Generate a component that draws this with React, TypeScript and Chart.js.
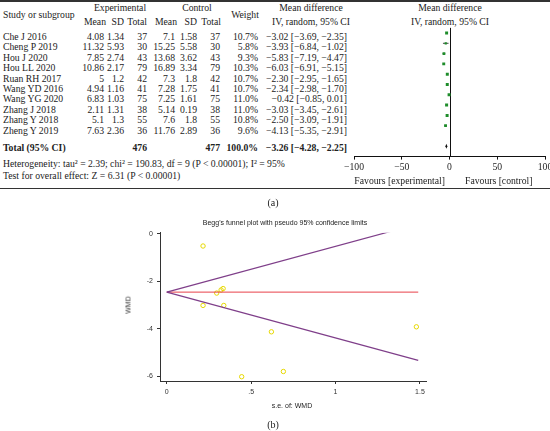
import React, { useEffect, useRef } from "react";
import { Chart, registerables } from "chart.js";
Chart.register(...registerables);

// ---------- Forest plot data ----------
const studies = ["Che J 2016", "Cheng P 2019", "Hou J 2020", "Hou LL 2020", "Ruan RH 2017", "Wang YD 2016", "Wang YG 2020", "Zhang J 2018", "Zhang Y 2018", "Zheng Y 2019"];
const expMean = [4.08, 11.32, 7.85, 10.86, 5, 4.94, 6.83, 2.11, 5.1, 7.63];
const expSD = [1.34, 5.93, 2.74, 2.17, 1.2, 1.16, 1.03, 1.31, 1.3, 2.36];
const expN = [37, 30, 43, 79, 42, 41, 75, 38, 55, 36];
const ctlMean = [7.1, 15.25, 13.68, 16.89, 7.3, 7.28, 7.25, 5.14, 7.6, 11.76];
const ctlSD = [1.58, 5.58, 3.62, 3.34, 1.8, 1.75, 1.61, 0.19, 1.8, 2.89];
const ctlN = [37, 30, 43, 79, 42, 41, 75, 38, 55, 36];
const weights = [10.7, 5.8, 9.3, 10.3, 10.7, 10.7, 11.0, 11.0, 10.8, 9.6];
const md = [-3.02, -3.93, -5.83, -6.03, -2.3, -2.34, -0.42, -3.03, -2.5, -4.13];
const mdLo = [-3.69, -6.84, -7.19, -6.91, -2.95, -2.98, -0.85, -3.45, -3.09, -5.35];
const mdHi = [-2.35, -1.02, -4.47, -5.15, -1.65, -1.7, 0.01, -2.61, -1.91, -2.91];
const totalExpN = 476;
const totalCtlN = 477;
const totalMd = -3.26;
const totalLo = -4.28;
const totalHi = -2.25;
const forestTicks = [-100, -50, 0, 50, 100];

// ---------- Funnel plot data ----------
const funnelSe = [0.215, 0.296, 0.322, 0.334, 0.215, 0.338, 0.62, 1.479, 0.691, 0.444];
const funnelWmd = [-0.52, -2.5, -2.37, -2.31, -3.02, -3.02, -4.13, -3.92, -5.8, -6.02];
const pooledLine = [{ x: 0, y: -2.46 }, { x: 1.49, y: -2.46 }];
const upperLimit = [{ x: 0, y: -2.46 }, { x: 1.49, y: 0.41 }];
const lowerLimit = [{ x: 0, y: -2.46 }, { x: 1.49, y: -5.33 }];
const funnelXTicks = [0, 0.5, 1, 1.5];
const funnelYTicks = [-6, -4, -2, 0];

const SERIF = "'Liberation Serif', 'DejaVu Serif', serif";
const SANS = "'Liberation Sans', Arial, sans-serif";
const TXT = "#222";
const W = 550;

const minus = (s: string) => s.replace(/-/g, "\u2212");
const f2 = (v: number) => minus(v.toFixed(2));
const ci = (m: number, l: number, h: number) => `${f2(m)} [${f2(l)}, ${f2(h)}]`;

const rowY = (i: number) => 37 + i * 10.4;
const Y_TOTAL = 148;
const Y_HET = 164;
const Y_TEST = 176;

function T(props: { x: number; y: number; align?: "left" | "right" | "center"; bold?: boolean; size?: number; family?: string; children: any }) {
  const size = props.size ?? 9.7;
  const style: any = {
    position: "absolute",
    top: props.y - size * 0.62,
    lineHeight: size * 1.2 + "px",
    fontSize: size,
    fontFamily: props.family ?? SERIF,
    whiteSpace: "nowrap",
    fontWeight: props.bold ? 700 : 400,
    color: TXT,
  };
  const align = props.align ?? "left";
  if (align === "left") style.left = props.x;
  else if (align === "right") style.right = W - props.x;
  else {
    style.left = props.x;
    style.transform = "translateX(-50%)";
  }
  return <div style={style}>{props.children}</div>;
}

const COLS = { em: 104, es: 124, en: 147, cm: 175, cs: 197, cn: 220, w: 258, ci: 347 };

function ForestChart() {
  const ref = useRef<HTMLCanvasElement>(null);
  useEffect(() => {
    const forestPlugin = {
      id: "forestExtras",
      beforeDatasetsDraw(chart: any) {
        const { ctx, scales } = chart;
        const xs = scales.x, ys = scales.y;
        ctx.save();
        ctx.strokeStyle = "#111";
        ctx.lineWidth = 1;
        ctx.beginPath();
        const x0 = Math.round(xs.getPixelForValue(0)) + 0.5;
        ctx.moveTo(x0, ys.getPixelForValue(0.5));
        ctx.lineTo(x0, ys.getPixelForValue(13));
        ctx.stroke();
        ctx.lineWidth = 0.8;
        for (let i = 0; i < md.length; i++) {
          const y = ys.getPixelForValue(i + 1);
          ctx.beginPath();
          ctx.moveTo(xs.getPixelForValue(mdLo[i]), y);
          ctx.lineTo(xs.getPixelForValue(mdHi[i]), y);
          ctx.stroke();
        }
        ctx.restore();
      },
      afterDatasetsDraw(chart: any) {
        const { ctx, scales } = chart;
        const xs = scales.x, ys = scales.y;
        const y = ys.getPixelForValue(12);
        ctx.save();
        ctx.fillStyle = "#111";
        ctx.beginPath();
        ctx.moveTo(xs.getPixelForValue(totalLo), y);
        ctx.lineTo(xs.getPixelForValue(totalMd), y - 2.5);
        ctx.lineTo(xs.getPixelForValue(totalHi), y);
        ctx.lineTo(xs.getPixelForValue(totalMd), y + 2.5);
        ctx.closePath();
        ctx.fill();
        ctx.restore();
      },
    };
    const chart = new Chart(ref.current!, {
      type: "scatter",
      data: {
        datasets: [
          {
            data: md.map((m, i) => ({ x: m, y: i + 1 })),
            pointStyle: "rect",
            pointRadius: weights.map((w) => 2.1 * Math.sqrt(w / 10.7)),
            backgroundColor: "#1e8c2a",
            borderColor: "#1e8c2a",
            borderWidth: 0,
          },
        ],
      },
      options: {
        animation: false,
        responsive: false,
        maintainAspectRatio: false,
        devicePixelRatio: 1,
        layout: { padding: { left: 14, right: 5, top: 12.7, bottom: 0 } },
        plugins: { legend: { display: false }, tooltip: { enabled: false } },
        scales: {
          x: {
            type: "linear",
            min: -100,
            max: 100,
            afterBuildTicks: (s: any) => {
              s.ticks = forestTicks.map((v) => ({ value: v }));
            },
            ticks: {
              font: { family: SERIF, size: 9.7 },
              color: TXT,
              padding: 2,
              maxRotation: 0,
              callback: (v: any) => minus(String(v)),
            },
            grid: { drawOnChartArea: false, drawTicks: true, tickLength: 3, color: "#111" },
            border: { color: "#111", width: 1 },
            afterFit: (s: any) => {
              s.height = 43.4;
              s.paddingLeft = 0;
              s.paddingRight = 0;
            },
          },
          y: { type: "linear", min: 0, max: 13, reverse: true, display: false },
        },
      } as any,
      plugins: [forestPlugin],
    });
    return () => chart.destroy();
  }, []);
  return <canvas ref={ref} width={210} height={190} style={{ position: "absolute", left: 340, top: 10, width: 210, height: 190 }} />;
}

function FunnelChart() {
  const ref = useRef<HTMLCanvasElement>(null);
  useEffect(() => {
    const axisColor = "#333";
    const tickFont = { family: SANS, size: 7 };
    const chart = new Chart(ref.current!, {
      type: "scatter",
      data: {
        datasets: [
          { data: upperLimit, showLine: true, pointRadius: 0, borderColor: "#7f3f8a", borderWidth: 1.2 },
          { data: lowerLimit, showLine: true, pointRadius: 0, borderColor: "#7f3f8a", borderWidth: 1.2 },
          { data: pooledLine, showLine: true, pointRadius: 0, borderColor: "#e8404a", borderWidth: 1 },
          {
            data: funnelSe.map((s, i) => ({ x: s, y: funnelWmd[i] })),
            pointRadius: 2.2,
            pointBorderWidth: 1,
            borderColor: "#e6d800",
            backgroundColor: "rgba(0,0,0,0)",
          },
        ],
      },
      options: {
        animation: false,
        responsive: false,
        maintainAspectRatio: false,
        devicePixelRatio: 1,
        layout: { padding: { left: 24, right: 14, top: 32.7, bottom: 0 } },
        plugins: { legend: { display: false }, tooltip: { enabled: false } },
        scales: {
          x: {
            type: "linear",
            min: -0.04,
            max: 1.536,
            afterBuildTicks: (s: any) => {
              s.ticks = funnelXTicks.map((v) => ({ value: v }));
            },
            ticks: {
              font: tickFont,
              color: axisColor,
              padding: 4,
              maxRotation: 0,
              callback: (v: any) => (v === 0.5 ? ".5" : String(v)),
            },
            grid: { drawOnChartArea: false, drawTicks: true, tickLength: 3, color: axisColor },
            border: { color: axisColor, width: 1 },
            afterFit: (s: any) => {
              s.height = 34;
              s.paddingLeft = 0;
              s.paddingRight = 0;
            },
          },
          y: {
            type: "linear",
            min: -6.2,
            max: 0.04,
            afterBuildTicks: (s: any) => {
              s.ticks = funnelYTicks.map((v) => ({ value: v }));
            },
            ticks: { font: tickFont, color: axisColor, padding: 4, callback: (v: any) => String(v) },
            grid: { drawOnChartArea: false, drawTicks: true, tickLength: 3, color: axisColor },
            border: { color: axisColor, width: 1 },
            afterFit: (s: any) => {
              s.width = 36;
              s.paddingTop = 0;
              s.paddingBottom = 0;
            },
          },
        },
      } as any,
    });
    return () => chart.destroy();
  }, []);
  return <canvas ref={ref} width={340} height={215} style={{ position: "absolute", left: 100, top: 200, width: 340, height: 215 }} />;
}

export default function App() {
  return (
    <div style={{ position: "fixed", left: 0, top: 0, width: 550, height: 431, background: "#fff", overflow: "hidden" }}>
      {/* rules */}
      <div style={{ position: "absolute", left: 0, top: 0, width: 550, height: 1.5, background: "#333" }} />
      <div style={{ position: "absolute", left: 0, top: 187.5, width: 550, height: 1.5, background: "#333" }} />

      {/* header */}
      <T x={120} y={8} align="center">Experimental</T>
      <T x={197} y={8} align="center">Control</T>
      <T x={311} y={8} align="center">Mean difference</T>
      <T x={450} y={8} align="center">Mean difference</T>
      <T x={3} y={15.5}>Study or subgroup</T>
      <T x={245} y={15.5} align="center">Weight</T>
      <T x={106} y={22} align="right">Mean</T>
      <T x={COLS.es} y={22} align="right">SD</T>
      <T x={COLS.en} y={22} align="right">Total</T>
      <T x={COLS.cm + 2} y={22} align="right">Mean</T>
      <T x={COLS.cs} y={22} align="right">SD</T>
      <T x={COLS.cn + 1} y={22} align="right">Total</T>
      <T x={311} y={22} align="center">IV, random, 95% CI</T>
      <T x={450} y={22} align="center">IV, random, 95% CI</T>

      {studies.map((s, i) => (
        <React.Fragment key={s}>
          <T x={3} y={rowY(i)}>{s}</T>
          <T x={COLS.em} y={rowY(i)} align="right">{String(expMean[i])}</T>
          <T x={COLS.es} y={rowY(i)} align="right">{String(expSD[i])}</T>
          <T x={COLS.en} y={rowY(i)} align="right">{String(expN[i])}</T>
          <T x={COLS.cm} y={rowY(i)} align="right">{String(ctlMean[i])}</T>
          <T x={COLS.cs} y={rowY(i)} align="right">{String(ctlSD[i])}</T>
          <T x={COLS.cn} y={rowY(i)} align="right">{String(ctlN[i])}</T>
          <T x={COLS.w} y={rowY(i)} align="right">{weights[i].toFixed(1) + "%"}</T>
          <T x={COLS.ci} y={rowY(i)} align="right">{ci(md[i], mdLo[i], mdHi[i])}</T>
        </React.Fragment>
      ))}

      <T x={3} y={Y_TOTAL} bold>Total (95% CI)</T>
      <T x={COLS.en} y={Y_TOTAL} align="right" bold>{String(totalExpN)}</T>
      <T x={COLS.cn} y={Y_TOTAL} align="right" bold>{String(totalCtlN)}</T>
      <T x={COLS.w} y={Y_TOTAL} align="right" bold>100.0%</T>
      <T x={COLS.ci} y={Y_TOTAL} align="right" bold>{ci(totalMd, totalLo, totalHi)}</T>
      <T x={3} y={Y_HET}>Heterogeneity: tau² = 2.39; chi² = 190.83, df = 9 (P &lt; 0.00001); I² = 95%</T>
      <T x={3} y={Y_TEST}>Test for overall effect: Z = 6.31 (P &lt; 0.00001)</T>

      <ForestChart />
      <T x={445} y={181} align="right">Favours [experimental]</T>
      <T x={465} y={181}>Favours [control]</T>

      <T x={273} y={203} align="center" size={10}>(a)</T>

      <FunnelChart />
      <T x={285} y={223} align="center" size={7} family={SANS}>Begg's funnel plot with pseudo 95% confidence limits</T>
      <div
        style={{
          position: "absolute",
          left: 128,
          top: 305,
          transform: "translate(-50%, -50%) rotate(-90deg)",
          fontFamily: SANS,
          fontSize: 7,
          color: "#333",
          whiteSpace: "nowrap",
        }}
      >
        WMD
      </div>
      <T x={292} y={406} align="center" size={7} family={SANS}>s.e. of: WMD</T>
      <T x={273} y={425} align="center" size={10}>(b)</T>
    </div>
  );
}
